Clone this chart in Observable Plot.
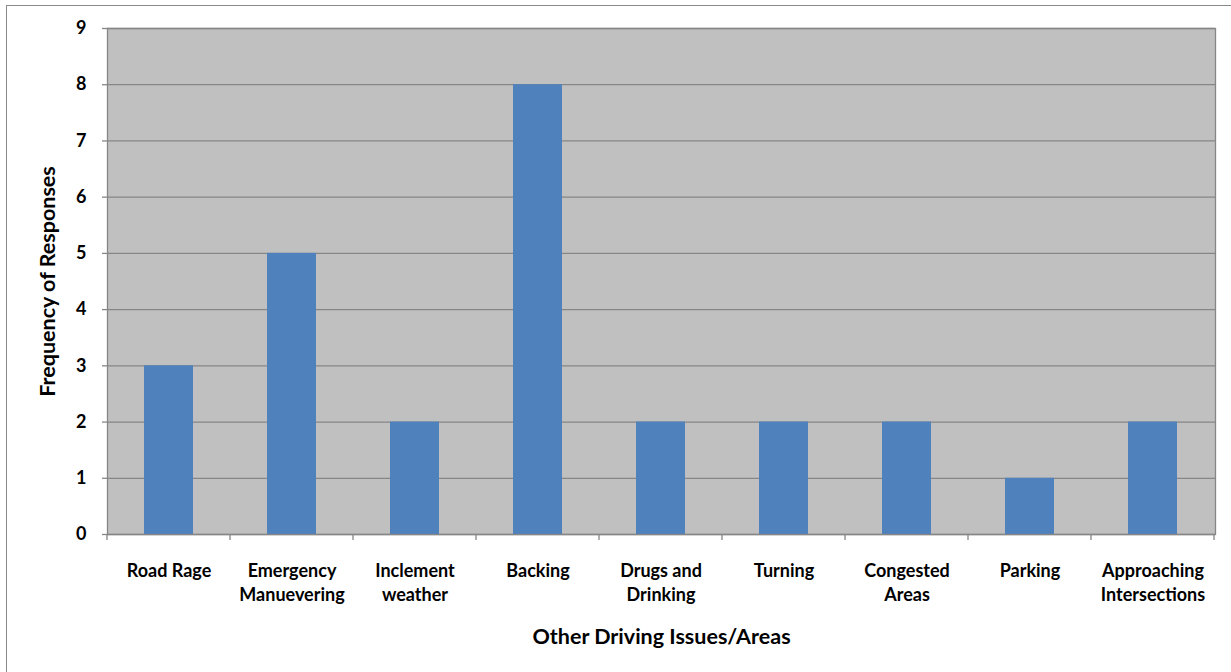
<!DOCTYPE html>
<html><head><meta charset="utf-8">
<script src="https://cdn.jsdelivr.net/npm/d3@7"></script>
<script src="https://cdn.jsdelivr.net/npm/@observablehq/plot@0.6"></script>
<style>
body{margin:0;background:#fff;}
#wrap{position:relative;width:1231px;height:672px;overflow:hidden;}
#chart{position:absolute;left:0;top:0;}
#border{position:absolute;left:6px;top:5px;width:1400px;height:900px;border:1px solid #898989;box-sizing:border-box;pointer-events:none;}
</style></head><body>
<div id="wrap"><div id="chart"></div><div id="border"></div></div>
<script>
const categories = ["Road Rage","Emergency\nManuevering","Inclement\nweather","Backing","Drugs and\nDrinking","Turning","Congested\nAreas","Parking","Approaching\nIntersections"];
const frequencies = [3,5,2,8,2,2,2,1,2];
const yTicks = [0,1,2,3,4,5,6,7,8,9];
const xTitle = "Other Driving Issues/Areas";
const yTitle = "Frequency of Responses";

const data = categories.map((c, i) => ({category: c, value: frequencies[i]}));
const FONT = "Lato, 'Open Sans', sans-serif";
const GRID = "#868686";

function boundaryTicks(index, scales, values, dimensions) {
  const x = scales.x;
  const pos = categories.map(c => x(c));
  const step = pos[1] - pos[0];
  let bw = typeof x.bandwidth === "function" ? x.bandwidth() : x.bandwidth;
  if (bw == null || isNaN(bw)) bw = step * 0.4;
  const off = (step - bw) / 2;
  const edges = pos.map(p => p - off).concat([pos[pos.length - 1] + bw + off]);
  const y0 = dimensions.height - dimensions.marginBottom;
  const g = d3.create("svg:g").attr("stroke", GRID).attr("stroke-width", 1.3);
  g.selectAll("line").data(edges).join("line")
    .attr("x1", d => d).attr("x2", d => d)
    .attr("y1", y0).attr("y2", y0 + 6);
  return g.node();
}

const chart = Plot.plot({
  width: 1231,
  height: 672,
  marginTop: 28,
  marginBottom: 138,
  marginLeft: 107,
  marginRight: 16,
  style: {fontFamily: FONT, background: "transparent", color: "#000"},
  x: {domain: categories, paddingInner: 0.6, paddingOuter: 0.3, label: null},
  y: {domain: [0, 9], label: null},
  marks: [
    Plot.frame({fill: "#c0c0c0"}),
    Plot.gridY(yTicks, {stroke: GRID, strokeOpacity: 1, strokeWidth: 1.3}),
    Plot.barY(data, {x: "category", y: "value", fill: "#4f81bd"}),
    Plot.frame({stroke: GRID, strokeWidth: 1.3}),
    Plot.axisY(yTicks, {tickSize: 5, tickPadding: 16, stroke: GRID, strokeWidth: 1.3, fontSize: 18, fontWeight: "bold", fill: "#000", label: null, tickFormat: d => String(d)}),
    Plot.axisX({tickSize: 0, tickPadding: 25, fontSize: 18, fontWeight: "bold", fill: "#000", lineHeight: 1.36, label: null, tickFormat: d => d}),
    boundaryTicks,
    Plot.text([yTitle], {frameAnchor: "left", rotate: -90, textAnchor: "middle", lineAnchor: "middle", dx: -59, fontSize: 21.5, fontWeight: "bold", fill: "#000"}),
    Plot.text([xTitle], {frameAnchor: "bottom", textAnchor: "middle", lineAnchor: "middle", dy: 103, fontSize: 21.5, fontWeight: "bold", fill: "#000"})
  ]
});
document.getElementById("chart").appendChild(chart);
</script>
</body></html>
